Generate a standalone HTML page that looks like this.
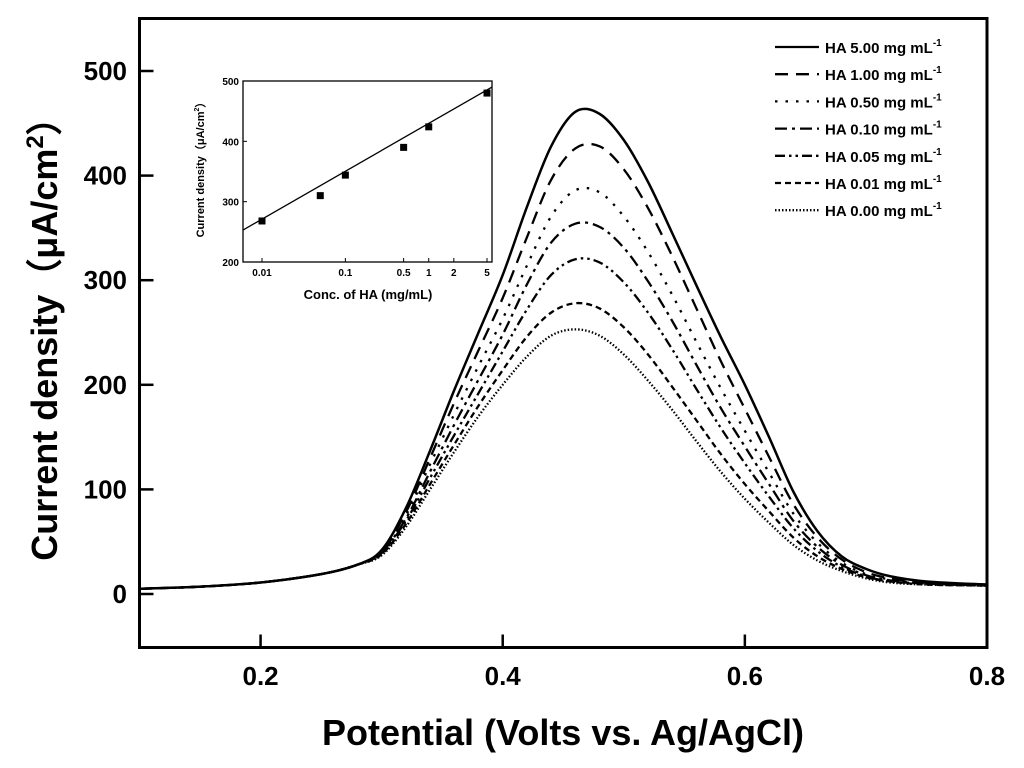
<!DOCTYPE html>
<html><head><meta charset="utf-8"><style>
body{margin:0;background:#fff;}
svg{display:block;font-family:"Liberation Sans",Arial,sans-serif;}
</style></head><body>
<svg id="chart" width="1024" height="768" viewBox="0 0 1024 768">
<rect width="1024" height="768" fill="#fff"/>
<g id="main"></g>
<g id="inset"></g>
<g id="legend"></g>
</svg>
<script>
const xs=[0.10,0.15,0.20,0.25,0.28,0.30,0.32,0.34,0.36,0.38,0.40,0.42,0.44,0.46,0.48,0.50,0.52,0.54,0.56,0.58,0.60,0.62,0.64,0.66,0.68,0.70,0.72,0.75,0.80];
const s500=[5,7,11,19,28,42,82,137,195,250,305,370,428,461,459,434,394,345,295,246,200,150,98,60,36,24,17,12,9];
const s100=[5,7,11,19,28,41,78,130,183,233,283,341,396,426,428,406,369,323,273,223,177,131,86,54,33,21,15,11,9];
const s050=[5,7,11,19,28,40,75,124,172,218,263,314,361,386,384,361,327,286,241,197,156,116,77,49,30,19,14,10,9];
const s010=[5,7,11,19,28,40,72,117,162,205,248,296,336,354,351,331,299,261,219,178,141,105,70,45,28,18,13,10,8];
const s005=[5,7,11,19,28,39,70,111,152,192,232,272,305,320,317,298,269,234,196,159,125,93,63,41,26,17,12,10,8];
const s001=[5,7,11,19,28,38,67,105,143,180,214,246,269,278,273,255,229,198,166,134,105,79,54,36,24,16,12,9,8];
const s000=[5,7,11,19,28,37,64,100,136,170,200,227,247,253,247,229,204,176,146,117,91,68,47,32,22,15,11,9,8];
const seriesNames=["HA 5.00 mg mL","HA 1.00 mg mL","HA 0.50 mg mL","HA 0.10 mg mL","HA 0.05 mg mL","HA 0.01 mg mL","HA 0.00 mg mL"];
const dashes=["","13,8","2.5,8","12,5,3,5","10,4,2.5,4,2.5,4","6,4","1.5,2"];
const yTicks=[0,100,200,300,400,500];
const xTicks=[0.2,0.4,0.6,0.8];
const insetConc=[0.01,0.05,0.1,0.5,1,5];
const insetVals=[268,310,344,390,424,480];
const insetXTicks=[0.01,0.1,0.5,1,2,5];
const insetXLabels=["0.01","0.1","0.5","1","2","5"];
const insetYTicks=[200,300,400,500];
const fitLine=[253,490];
const NS="http://www.w3.org/2000/svg";
function mk(parent,tag,attrs,text){const e=document.createElementNS(NS,tag);for(const k in attrs)e.setAttribute(k,attrs[k]);if(text!==undefined)e.textContent=text;parent.appendChild(e);return e;}
const L=139.5,R=987,T=18.5,B=647.5;
const X=v=>L+(v-0.1)/0.7*(R-L);
const Y=v=>594-v*1.046;
const main=document.getElementById('main');
let fr=mk(main,'rect',{x:L,y:T,width:R-L,height:B-T,fill:'none',stroke:'#000','stroke-width':3});


yTicks.forEach(t=>{
 let tk=mk(main,'line',{x1:L,x2:L+14,y1:Y(t),y2:Y(t),stroke:'#000','stroke-width':2.5});
 
 
 let lb=mk(main,'text',{x:127,y:Y(t)+9,'text-anchor':'end','font-size':26,'font-weight':'bold'},String(t));
 
 
});
xTicks.forEach(t=>{
 let tk=mk(main,'line',{x1:X(t),x2:X(t),y1:B,y2:B-13,stroke:'#000','stroke-width':2.5});
 
 
 let lb=mk(main,'text',{x:X(t),y:685,'text-anchor':'middle','font-size':26,'font-weight':'bold'},t.toFixed(1));
 
 
});
let xt=mk(main,'text',{x:563,y:745,'text-anchor':'middle','font-size':36,'font-weight':'bold'},'Potential (Volts vs. Ag/AgCl)');


let yt=mk(main,'text',{x:0,y:0,'text-anchor':'middle','font-size':36,'font-weight':'bold',transform:'translate(57,330) rotate(-90)'});
yt.innerHTML='Current density（μA/cm<tspan dy="-14" font-size="24">2</tspan><tspan dy="14">）</tspan>';


function pathFor(vals,xf,yf){
 const p=xs.map((x,i)=>[xf(x),yf(vals[i])]);
 let d='M'+p[0][0]+','+p[0][1];
 for(let i=0;i<p.length-1;i++){
  const p0=p[Math.max(0,i-1)],p1=p[i],p2=p[i+1],p3=p[Math.min(p.length-1,i+2)];
  const c1=[p1[0]+(p2[0]-p0[0])/6,p1[1]+(p2[1]-p0[1])/6];
  const c2=[p2[0]-(p3[0]-p1[0])/6,p2[1]-(p3[1]-p1[1])/6];
  d+=` C${c1[0]},${c1[1]} ${c2[0]},${c2[1]} ${p2[0]},${p2[1]}`;
 }
 return d;
}
const allSeries=[s500,s100,s050,s010,s005,s001,s000];
const leg=document.getElementById('legend');
allSeries.forEach((s,i)=>{
 let c=mk(main,'path',{d:pathFor(s,X,Y),fill:'none',stroke:'#000','stroke-width':i==0?2.5:2.3,'stroke-dasharray':dashes[i]});
 
 
 const ly=47+i*27.2;
 let ll=mk(leg,'line',{x1:775,x2:819,y1:ly,y2:ly,stroke:'#000','stroke-width':2.3,'stroke-dasharray':dashes[i]});
 
 
 let lt=mk(leg,'text',{x:825,y:ly+6,'font-size':15,'font-weight':'bold'});
 lt.innerHTML=seriesNames[i]+'<tspan dy="-7" font-size="10">-1</tspan>';
 
 
});
const ins=document.getElementById('inset');
const iL=243,iR=492,iT=81,iB=262;
const IX=c=>262+(Math.log10(c)+2)/Math.log10(500)*(487-262);
const IY=v=>iB-(v-200)/300*(iB-iT);
let ifr=mk(ins,'rect',{x:iL,y:iT,width:iR-iL,height:iB-iT,fill:'#fff',stroke:'#000','stroke-width':1.3});


insetYTicks.forEach(t=>{
 let tk=mk(ins,'line',{x1:iL,x2:iL+4,y1:IY(t),y2:IY(t),stroke:'#000','stroke-width':1});
 
 
 let lb=mk(ins,'text',{x:iL-4,y:IY(t)+4,'text-anchor':'end','font-size':10,'font-weight':'bold'},String(t));
 
 
});
insetXTicks.forEach((t,i)=>{
 let tk=mk(ins,'line',{x1:IX(t),x2:IX(t),y1:iB,y2:iB-4,stroke:'#000','stroke-width':1});
 
 
 let lb=mk(ins,'text',{x:IX(t),y:276,'text-anchor':'middle','font-size':10,'font-weight':'bold'},insetXLabels[i]);
 
 
});
let fl=mk(ins,'line',{x1:iL,y1:IY(fitLine[0]),x2:iR,y2:IY(fitLine[1]),stroke:'#000','stroke-width':1.3});


insetConc.forEach((c,i)=>{
 let m=mk(ins,'rect',{x:IX(c)-3.5,y:IY(insetVals[i])-3.5,width:7,height:7,fill:'#000'});
 
 
});
let ixt=mk(ins,'text',{x:368,y:299,'text-anchor':'middle','font-size':13,'font-weight':'bold'},'Conc. of HA (mg/mL)');


let iyt=mk(ins,'text',{x:0,y:0,'text-anchor':'middle','font-size':11,'font-weight':'bold',transform:'translate(204,167) rotate(-90)'});
iyt.innerHTML='Current density（μA/cm<tspan dy="-5" font-size="7">2</tspan><tspan dy="5">）</tspan>';


</script>
</body></html>
